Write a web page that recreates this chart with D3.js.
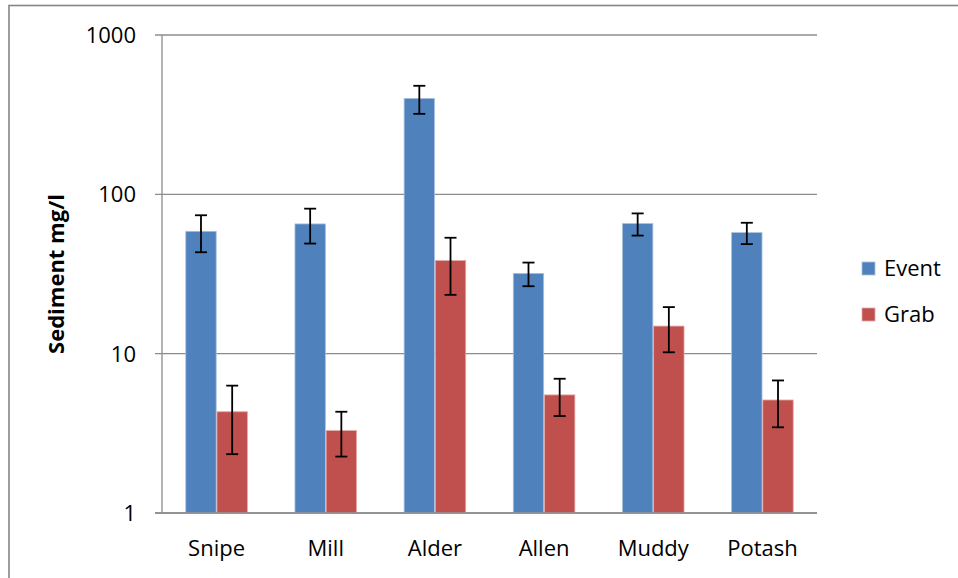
<!DOCTYPE html>
<html>
<head>
<meta charset="utf-8">
<script src="https://cdn.jsdelivr.net/npm/d3@7"></script>
<style>
  body { margin: 0; background: #fff; }
  text { font-family: "Open Sans", Lato, sans-serif; fill: #000; }
</style>
</head>
<body>
<div id="chart"></div>
<script>
const WIDTH = 958;
const HEIGHT = 578;
const MARGIN = { top: 35, right: 141, bottom: 65, left: 162 };

// values
const sites = ['Snipe', 'Mill', 'Alder', 'Allen', 'Muddy', 'Potash'];
const series = ['Event', 'Grab'];
const eventMean = [58.6, 65.2, 400, 31.9, 65.5, 57.5];
const eventErr = [15.3, 16.1, 80, 5.4, 10.4, 8.8];
const grabMean = [4.32, 3.29, 38.4, 5.51, 14.9, 5.12];
const grabErr = [1.98, 1.03, 15, 1.45, 4.7, 1.67];
const yTicks = [1, 10, 100, 1000];

const colors = { Event: '#4f81bd', Grab: '#c0504d' };
const edges = { Event: '#a7c0de', Grab: '#e3a8a6' };

const rows = sites.map((s, i) => ({
  site: s,
  vals: [
    { key: 'Event', v: eventMean[i], e: eventErr[i] },
    { key: 'Grab', v: grabMean[i], e: grabErr[i] }
  ]
}));

const svg = d3.select('#chart').append('svg')
  .attr('width', WIDTH)
  .attr('height', HEIGHT);

// outer chart frame (cut off at right and bottom like the original)
svg.append('rect')
  .attr('x', 9).attr('y', 5.5)
  .attr('width', 1200).attr('height', 1200)
  .attr('fill', 'none')
  .attr('stroke', '#868686')
  .attr('stroke-width', 1.6);

const w = WIDTH - MARGIN.left - MARGIN.right;
const h = HEIGHT - MARGIN.top - MARGIN.bottom;
const g = svg.append('g').attr('transform', `translate(${MARGIN.left},${MARGIN.top})`);

const x0 = d3.scaleBand().domain(sites).range([0, w]).paddingInner(0.4286).paddingOuter(0.2143);
const x1 = d3.scaleBand().domain(series).range([0, x0.bandwidth()]);
const y = d3.scaleLog().domain([1, 1000]).range([h, 0]);

// gridlines + tick stubs
g.append('g')
  .selectAll('line')
  .data(yTicks)
  .enter().append('line')
  .attr('x1', -7).attr('x2', w)
  .attr('y1', (d) => y(d)).attr('y2', (d) => y(d))
  .attr('stroke', '#8c8c8c')
  .attr('stroke-width', 1.3);

// y axis line
g.append('line')
  .attr('x1', 0).attr('x2', 0)
  .attr('y1', 0).attr('y2', h)
  .attr('stroke', '#8c8c8c')
  .attr('stroke-width', 1.3);

g.append('g')
  .selectAll('text')
  .data(yTicks)
  .enter().append('text')
  .attr('x', -26)
  .attr('y', (d) => y(d))
  .attr('dy', '0.36em')
  .attr('text-anchor', 'end')
  .attr('font-size', 22)
  .text((d) => d);

// bars
const groups = g.append('g')
  .selectAll('g')
  .data(rows)
  .enter().append('g')
  .attr('transform', (d) => `translate(${x0(d.site)},0)`);

groups.selectAll('rect')
  .data((d) => d.vals)
  .enter().append('rect')
  .attr('x', (d) => x1(d.key) + 0.4)
  .attr('y', (d) => y(d.v))
  .attr('width', x1.bandwidth() - 0.8)
  .attr('height', (d) => h - y(d.v))
  .attr('fill', (d) => colors[d.key])
  .attr('stroke', (d) => edges[d.key])
  .attr('stroke-width', 0.8);

// error bars
const cap = 6;
const eb = groups.selectAll('g.err')
  .data((d) => d.vals)
  .enter().append('g')
  .attr('class', 'err')
  .attr('stroke', '#000')
  .attr('stroke-width', 1.8);

const cx = (d) => x1(d.key) + x1.bandwidth() / 2;
eb.append('line')
  .attr('x1', cx).attr('x2', cx)
  .attr('y1', (d) => y(d.v + d.e)).attr('y2', (d) => y(d.v - d.e));
eb.append('line')
  .attr('x1', (d) => cx(d) - cap).attr('x2', (d) => cx(d) + cap)
  .attr('y1', (d) => y(d.v + d.e)).attr('y2', (d) => y(d.v + d.e));
eb.append('line')
  .attr('x1', (d) => cx(d) - cap).attr('x2', (d) => cx(d) + cap)
  .attr('y1', (d) => y(d.v - d.e)).attr('y2', (d) => y(d.v - d.e));

// redraw baseline over bars
g.append('line')
  .attr('x1', -7).attr('x2', w)
  .attr('y1', h).attr('y2', h)
  .attr('stroke', '#8c8c8c')
  .attr('stroke-width', 1.3);

// category labels
g.append('g')
  .selectAll('text')
  .data(sites)
  .enter().append('text')
  .attr('x', (d) => x0(d) + x0.bandwidth() / 2)
  .attr('y', h + 43)
  .attr('text-anchor', 'middle')
  .attr('font-size', 22)
  .text((d) => d);

// y title
svg.append('text')
  .attr('transform', `translate(64,${MARGIN.top + h / 2}) rotate(-90)`)
  .attr('text-anchor', 'middle')
  .attr('font-size', 22)
  .attr('font-weight', 'bold')
  .text('Sediment mg/l');

// legend
const legend = svg.append('g')
  .selectAll('g')
  .data(series)
  .enter().append('g')
  .attr('transform', (d, i) => `translate(862,${262 + i * 46})`);

legend.append('rect')
  .attr('width', 13).attr('height', 13)
  .attr('fill', (d) => colors[d])
  .attr('stroke', (d) => edges[d])
  .attr('stroke-width', 0.8);

legend.append('text')
  .attr('x', 22)
  .attr('y', 13.5)
  .attr('font-size', 22)
  .text((d) => d);
</script>
</body>
</html>
